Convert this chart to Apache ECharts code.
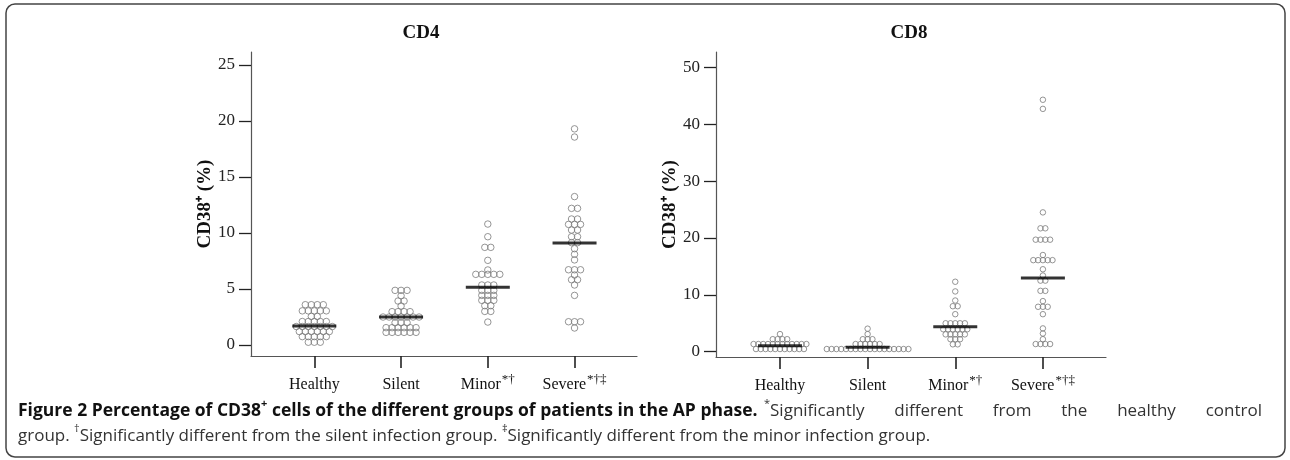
<!DOCTYPE html>
<html><head><meta charset="utf-8">
<script src="https://cdn.jsdelivr.net/npm/echarts@6/dist/echarts.min.js"></script>
<style>html,body{margin:0;padding:0;background:#fff}#c{width:1290px;height:460px}</style>
</head><body><div id="c"></div>
<script>
const categories = ['Healthy', 'Silent', 'Minor', 'Severe'];
const categoryMarks = ['', '', '*†', '*†‡'];
const cd4Ticks = [0, 5, 10, 15, 20, 25];
const cd8Ticks = [0, 10, 20, 30, 40, 50];

// CD4 panel values (% CD38+)
const cd4Healthy = [3.6,3.6,3.6,3.6, 3.05,3.05,3.05,3.05,3.05, 2.55,2.55, 2.1,2.1,2.1,2.1,2.1,
  1.65,1.65,1.65,1.65,1.65,1.65,1.65, 1.2,1.2,1.2,1.2,1.2,1.2, 0.75,0.75,0.75,0.75,0.75, 0.25,0.25,0.25];
const cd4Silent = [4.88,4.88,4.88, 4.4, 3.93,3.93, 3.48, 2.98,2.98,2.98,2.98,
  2.5,2.5,2.5,2.5,2.5,2.5,2.5, 1.99,1.99,1.99, 1.55,1.55,1.55,1.55,1.55,1.55, 1.13,1.13,1.13,1.13,1.13,1.13];
const cd4Minor = [10.8, 9.67, 8.72,8.72, 7.56, 6.7, 6.31,6.31,6.31,6.31,6.31, 5.36,5.36,5.36,
  4.88,4.88,4.88, 4.43,4.43,4.43, 3.99,3.99,3.99, 3.51,3.51, 3.0,3.0, 2.05];
const cd4Severe = [19.3, 18.57, 13.25, 12.2,12.2, 11.25,11.25, 10.77,10.77,10.77, 10.27,10.27,
  9.67,9.67, 9.14,9.14, 8.6, 8.1, 7.6, 6.72,6.72,6.72, 6.25, 5.83,5.83, 5.36, 4.43, 2.08,2.08,2.08, 1.52];
const cd4Median = [1.7, 2.5, 5.15, 9.1];

// CD8 panel values (% CD38+)
const cd8Healthy = [3.1, 2.2,2.2,2.2,2.2, 1.35,1.35,1.35,1.35,1.35,1.35,1.35,1.35,1.35,1.35,1.35,1.35,
  0.47,0.47,0.47,0.47,0.47,0.47,0.47,0.47,0.47,0.47,0.47];
const cd8Silent = [4.05, 3.1, 2.2,2.2,2.2, 1.35,1.35,1.35,1.35,1.35,1.35,
  0.47,0.47,0.47,0.47,0.47,0.47,0.47,0.47,0.47,0.47,0.47,0.47,0.47,0.47,0.47,0.47,0.47,0.47];
const cd8Minor = [12.3, 10.6, 9.0, 8.0,8.0, 6.6, 5.0,5.0,5.0,5.0,5.0, 3.95,3.95,3.95,3.95,3.95,3.95,
  3.05,3.05,3.05,3.05,3.05, 2.2,2.2,2.2, 1.3,1.3];
const cd8Severe = [44.3, 42.7, 24.5, 21.7,21.7, 19.7,19.7,19.7,19.7, 17.0, 16.1,16.1,16.1,16.1,16.1,
  14.5, 13.4, 12.5,12.5, 10.7,10.7, 8.9, 7.9,7.9,7.9, 6.6, 4.1, 3.2, 2.2, 1.35,1.35,1.35,1.35];
const cd8Median = [1.05, 0.8, 4.4, 12.95];

// Caption text
const captionBold = '{b|Figure 2 Percentage of CD38}{bs|+}{b| cells of the different groups of patients in the AP phase.}';
const captionWords = [
  [['*','rs'],['Significantly','r']], [['different','r']], [['from','r']], [['the','r']], [['healthy','r']], [['control','r']]
];
const captionLine2 = '{r|group. }{rs|†}{r|Significantly different from the silent infection group. }{rs|‡}{r|Significantly different from the minor infection group.}';

const SERIF = '"Liberation Serif","Times New Roman",serif';
const SANS = '"Open Sans"';
const capStyles = {
  b: { fontFamily: SANS, fontWeight: 'bold', fontSize: 17.5, fill: '#111', lineHeight: 22, verticalAlign: 'bottom' },
  bs: { fontFamily: SANS, fontWeight: 'bold', fontSize: 11, fill: '#111', lineHeight: 22, verticalAlign: 'top' },
  r: { fontFamily: SANS, fontSize: 17, fill: '#333', lineHeight: 22, verticalAlign: 'bottom' },
  rs: { fontFamily: SANS, fontSize: 11, fill: '#333', lineHeight: 22, verticalAlign: 'top' }
};

function swarm(groups, spacing) {
  const out = [];
  groups.forEach((vals, gi) => {
    const counts = {};
    vals.forEach(v => { counts[v] = (counts[v] || 0) + 1; });
    const seen = {};
    vals.forEach(v => {
      const n = counts[v];
      const i = seen[v] = (seen[v] === undefined ? 0 : seen[v] + 1);
      out.push({ value: [gi + 1, v], symbolOffset: [(i - (n - 1) / 2) * spacing, 0] });
    });
  });
  return out;
}

const mctx = document.createElement('canvas').getContext('2d');
function measure(pieces) {
  return pieces.reduce((s, [t, k]) => {
    const st = capStyles[k];
    mctx.font = (st.fontWeight || 'normal') + ' ' + st.fontSize + 'px ' + st.fontFamily;
    return s + mctx.measureText(t).width;
  }, 0);
}

function justifiedWords(words, x0, x1, top) {
  const widths = words.map(measure);
  const total = widths.reduce((a, b) => a + b, 0);
  const gap = (x1 - x0 - total) / (words.length - 1);
  let x = x0;
  return words.map((w, i) => {
    const el = { type: 'text', x: x, y: top, z: 10, style: {
      text: w.map(([t, k]) => '{' + k + '|' + t + '}').join(''), rich: capStyles } };
    x += widths[i] + gap;
    return el;
  });
}

const boldWidth = measure([['Figure 2 Percentage of CD38','b'],['+','bs'],[' cells of the different groups of patients in the AP phase.','b']]);
const spaceW = measure([[' ','r']]);

function xAxisCfg(gridIndex) {
  return {
    type: 'value', gridIndex, min: 0.27, max: 4.72,
    axisLine: { show: true, onZero: false, lineStyle: { color: '#555', width: 1.2 } },
    axisTick: { show: true, customValues: [1, 2, 3, 4], length: 12, lineStyle: { color: '#222', width: 1.6 } },
    axisLabel: {
      customValues: [1, 2, 3, 4], margin: 17,
      formatter: v => {
        const i = Math.round(v) - 1;
        const m = categoryMarks[i];
        return '{a|' + categories[i] + '}' + (m ? '{s|' + m + '}' : '');
      },
      rich: {
        a: { fontFamily: SERIF, fontSize: 16, color: '#111', lineHeight: 20, verticalAlign: 'bottom' },
        s: { fontFamily: SERIF, fontSize: 13, color: '#111', lineHeight: 20, verticalAlign: 'top', padding: [0, 0, 0, 1] }
      }
    },
    splitLine: { show: false }
  };
}

function yAxisCfg(gridIndex, min, max, ticks) {
  return {
    type: 'value', gridIndex, min, max,
    axisLine: { show: true, onZero: false, lineStyle: { color: '#555', width: 1.2 } },
    axisTick: { show: true, customValues: ticks, length: 12, lineStyle: { color: '#222', width: 1.3 } },
    axisLabel: { customValues: ticks, margin: 16, fontFamily: SERIF, fontSize: 17, color: '#222' },
    splitLine: { show: false },
    name: 'CD38⁺ (%)', nameLocation: 'middle', nameRotate: 90, nameGap: 32,
    nameTextStyle: { fontFamily: SERIF, fontWeight: 'bold', fontSize: 19, color: '#111' }
  };
}

const dotStyle = { color: 'rgba(255,255,255,0)', borderColor: '#7a7a7a', borderWidth: 1 };
const titleStyle = { fontFamily: SERIF, fontWeight: 'bold', fontSize: 19, fill: '#111', align: 'center', verticalAlign: 'middle' };

const chart = echarts.init(document.getElementById('c'), null, { renderer: 'canvas' });
chart.setOption({
  animation: false,
  backgroundColor: '#fff',
  grid: [
    { left: 251, top: 52, width: 386, height: 304 },
    { left: 716, top: 52, width: 390, height: 305 }
  ],
  xAxis: [xAxisCfg(0), xAxisCfg(1)],
  yAxis: [yAxisCfg(0, -0.98, 26.16, cd4Ticks), yAxisCfg(1, -0.93, 52.7, cd8Ticks)],
  series: [
    { type: 'scatter', xAxisIndex: 0, yAxisIndex: 0, symbol: 'circle', symbolSize: 6.5, itemStyle: dotStyle,
      data: swarm([cd4Healthy, cd4Silent, cd4Minor, cd4Severe], 6), z: 2 },
    { type: 'scatter', xAxisIndex: 0, yAxisIndex: 0, symbol: 'rect', symbolSize: [44, 3], itemStyle: { color: '#000' },
      data: cd4Median.map((m, i) => [i + 1, m]), z: 3 },
    { type: 'scatter', xAxisIndex: 1, yAxisIndex: 1, symbol: 'circle', symbolSize: 5.5, itemStyle: dotStyle,
      data: swarm([cd8Healthy, cd8Silent, cd8Minor, cd8Severe], 4.8), z: 2 },
    { type: 'scatter', xAxisIndex: 1, yAxisIndex: 1, symbol: 'rect', symbolSize: [44, 3], itemStyle: { color: '#000' },
      data: cd8Median.map((m, i) => [i + 1, m]), z: 3 }
  ],
  graphic: [
    { type: 'rect', shape: { x: 6, y: 4, width: 1279, height: 453, r: 9 }, style: { fill: 'none', stroke: '#444', lineWidth: 1.5 }, z: 10 },
    { type: 'text', x: 421, y: 33, z: 10, style: Object.assign({ text: 'CD4' }, titleStyle) },
    { type: 'text', x: 909, y: 33, z: 10, style: Object.assign({ text: 'CD8' }, titleStyle) },
    { type: 'text', x: 18, y: 398, z: 10, style: { text: captionBold, rich: capStyles } },
    ...justifiedWords(captionWords, 18 + boldWidth + spaceW + 2, 1262, 398),
    { type: 'text', x: 18, y: 423, z: 10, style: { text: captionLine2, rich: capStyles } }
  ]
});
</script>
</body></html>
